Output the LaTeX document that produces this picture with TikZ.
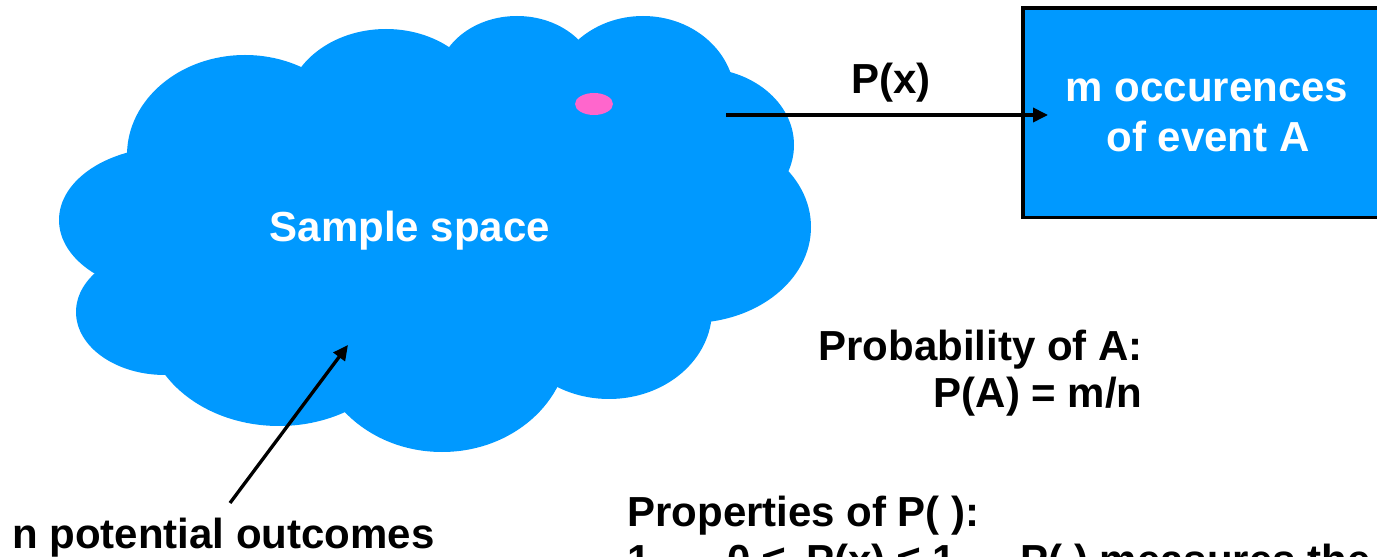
\documentclass[tikz,border=0pt]{standalone}
\usepackage{fontspec}
\setmainfont{Liberation Sans}
\usetikzlibrary{arrows.meta,positioning}
\definecolor{skyblue}{HTML}{0099FF}
\definecolor{blobpink}{HTML}{FF66CC}

\begin{document}
\begin{tikzpicture}[x=0.02cm, y=-0.02cm,
    tx/.style={font=\fontsize{23.9}{27.2}\selectfont\bfseries, inner sep=0pt},
    wt/.style={tx, text=white},
    evbox/.style={draw, line width=2pt, fill=skyblue,
                  minimum width=7.6cm, minimum height=4.2cm, anchor=north west},
    arr/.style={line width=1.9pt, -{Triangle[length=8.5pt,width=8pt]}},
    puff/.style={fill=skyblue}
  ]
    \useasboundingbox (0,0) rectangle (1377,557);
    \clip (0,0) rectangle (1377,557);
    % cloud
    \fill[puff] (440,230) ellipse [x radius=290, y radius=160];
    \foreach \cx/\cy/\rx/\ry in {245/155/118/100, 386/110/100/81, 517/82/80/66,
        643/98/92/82, 700/145/94/77, 690/227/121/96, 609/310/103/89,
        442/340/127/112, 279/320/133/106, 165/312/89/63, 170/220/111/73}
      \fill[puff] (\cx,\cy) ellipse [x radius=\rx, y radius=\ry];
    \fill[blobpink] (594,104) ellipse [x radius=19, y radius=11];
    \node[wt, anchor=base] (ss) at (410,242) {Sample space};

    \node[evbox] (ev) at (1021,6) {};
    \node[wt, anchor=base] (ev1) at (1207,102) {m occurences};
    \node[wt, anchor=base] (ev2) at (1208,152) {of event A};
    \node[tx, anchor=base] (px) at (891,94) {P(x)};
    \coordinate (xo) at (726,115);
    \coordinate (xin) at (1048,115);
    \draw[arr] (xo) -- (xin);

    \node[tx, anchor=base west] (nout) at (12,548) {n potential outcomes};
    \coordinate (ntail) at (230,503);
    \coordinate (ntip) at (348,345);
    \draw[arr] (ntail) -- (ntip);

    \node[tx, anchor=base east] (prob) at (1143,360) {Probability of A:};
    \node[tx, anchor=base east] (pa) at (1143,408) {P(A) = m/n};
    \node[tx, anchor=base west] (props) at (627,526) {Properties of P( ):};
    \node[tx, anchor=base west] (p1) at (627,574)
      {1.\hspace{37pt}0 ≤\hspace{12pt}P(x) ≤ 1\hspace{37pt}P( ) measures the};
\end{tikzpicture}
\end{document}
